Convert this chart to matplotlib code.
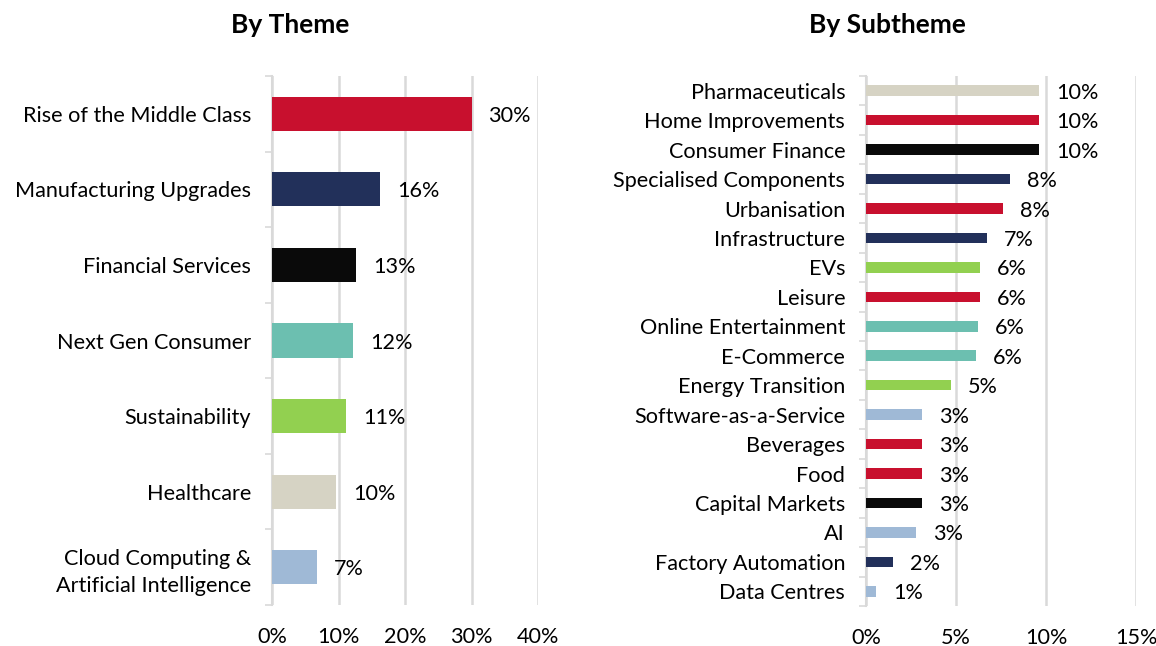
import matplotlib
matplotlib.use("Agg")
import matplotlib.pyplot as plt
import numpy as np

plt.rcParams['font.family'] = ['Lato', 'DejaVu Sans']

theme_names = ["Rise of the Middle Class", "Manufacturing Upgrades", "Financial Services",
               "Next Gen Consumer", "Sustainability", "Healthcare",
               "Cloud Computing &\nArtificial Intelligence"]
theme_values = [30.0, 16.2, 12.6, 12.2, 11.1, 9.6, 6.8]
theme_labels = ["30%", "16%", "13%", "12%", "11%", "10%", "7%"]
theme_colors = ["#C8102E", "#22305A", "#0A0A0A", "#6CBFB0", "#92D050", "#D6D3C4", "#9FB9D6"]

sub_names = ["Pharmaceuticals", "Home Improvements", "Consumer Finance", "Specialised Components",
             "Urbanisation", "Infrastructure", "EVs", "Leisure", "Online Entertainment",
             "E-Commerce", "Energy Transition", "Software-as-a-Service", "Beverages", "Food",
             "Capital Markets", "AI", "Factory Automation", "Data Centres"]
sub_values = [9.6, 9.6, 9.6, 8.0, 7.6, 6.7, 6.35, 6.35, 6.2, 6.1, 4.7, 3.1, 3.1, 3.1, 3.1, 2.8, 1.5, 0.55]
sub_labels = ["10%", "10%", "10%", "8%", "8%", "7%", "6%", "6%", "6%", "6%", "5%",
              "3%", "3%", "3%", "3%", "3%", "2%", "1%"]
sub_colors = ["#D6D3C4", "#C8102E", "#0A0A0A", "#22305A", "#C8102E", "#22305A", "#92D050",
              "#C8102E", "#6CBFB0", "#6CBFB0", "#92D050", "#9FB9D6", "#C8102E", "#C8102E",
              "#0A0A0A", "#9FB9D6", "#22305A", "#9FB9D6"]

theme_ticks = [0, 10, 20, 30, 40]
sub_ticks = [0, 5, 10, 15]

W, H = 1156, 646
fig = plt.figure(figsize=(W / 100, H / 100), dpi=100)

grid_c = "#D9D9D9"
fs = 15.6

def style(ax, n, ticks, xmax, names):
    ax.set_xlim(0, xmax)
    ax.set_ylim(n - 0.5, -0.5)
    ax.set_xticks(ticks)
    ax.set_xticklabels([f"{t}%" for t in ticks], fontsize=fs)
    ax.set_yticks(range(n))
    ax.set_yticklabels(names, fontsize=fs, linespacing=1.45)
    ax.set_yticks(np.arange(-0.5, n, 1.0), minor=True)
    ax.tick_params(axis='y', which='major', length=0, pad=15)
    ax.tick_params(axis='y', which='minor', length=5, width=1.2, color=grid_c)
    ax.tick_params(axis='x', length=0, pad=16)
    for s in ['top', 'right', 'bottom']:
        ax.spines[s].set_visible(False)
    ax.spines['left'].set_color(grid_c)
    ax.spines['left'].set_linewidth(1.5)
    ax.xaxis.grid(True, color=grid_c, linewidth=1.8)
    ax.set_axisbelow(True)

# Left panel
ax1 = fig.add_axes([272 / W, 1 - 605 / H, (538 - 272) / W, (605 - 76) / H])
y1 = np.arange(len(theme_names))
ax1.barh(y1, theme_values, height=0.45, color=theme_colors, zorder=3)
style(ax1, len(theme_names), theme_ticks, 40, theme_names)
for yi, v, lab in zip(y1, theme_values, theme_labels):
    ax1.annotate(lab, (v, yi), xytext=(17, -2), textcoords='offset pixels',
                 va='center', ha='left', fontsize=fs)

# Right panel
ax2 = fig.add_axes([866 / W, 1 - 606 / H, (1136 - 866) / W, (606 - 76) / H])
y2 = np.arange(len(sub_names))
ax2.barh(y2, sub_values, height=0.36, color=sub_colors, zorder=3)
style(ax2, len(sub_names), sub_ticks, 15, sub_names)
for yi, v, lab in zip(y2, sub_values, sub_labels):
    ax2.annotate(lab, (v, yi), xytext=(17, -2), textcoords='offset pixels',
                 va='center', ha='left', fontsize=fs)

fig.text(290 / W, 1 - 25 / H, "By Theme", ha='center', va='center', fontsize=19, fontweight='bold')
fig.text(887 / W, 1 - 25 / H, "By Subtheme", ha='center', va='center', fontsize=19, fontweight='bold')

fig.savefig("out.png", dpi=100)
